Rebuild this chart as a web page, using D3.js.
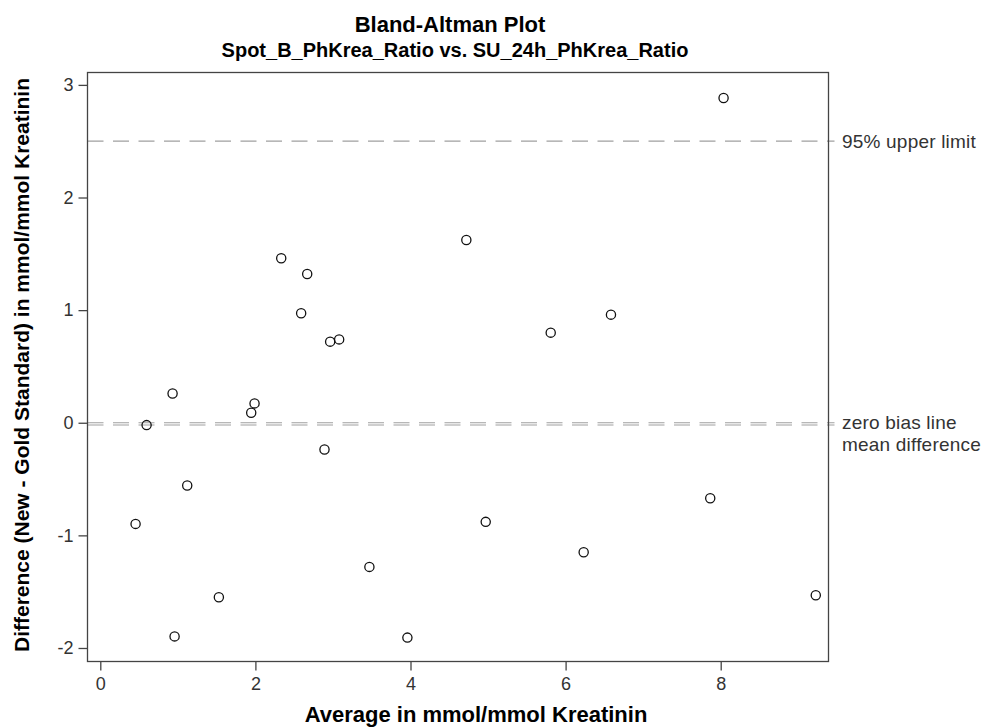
<!DOCTYPE html>
<html lang="en">
<head>
    <meta charset="UTF-8">
    <title>Bland-Altman Plot</title>
    <script src="https://d3js.org/d3.v7.min.js"></script>
    <style>
        body { margin: 0; background: #fff; }
        text { font-family: "Liberation Sans", Arial, sans-serif; }
        .tick-label { font-size: 18px; fill: #333; }
        .ref-label { font-size: 19px; fill: #333; letter-spacing: 0.2px; }
        .title { font-size: 20px; font-weight: bold; fill: #000; }
        .axis-title { font-size: 21px; font-weight: bold; fill: #000; }
    </style>
</head>
<body>
<svg width="986" height="727"></svg>
<script>
    // Averages (x) and differences (y)
    const avgValues  = [0.455, 0.597, 0.932, 0.958, 1.121, 1.529, 1.946, 1.989, 2.333, 2.590,
                        2.668, 2.891, 2.964, 3.080, 3.470, 3.960, 4.720, 4.970, 5.808, 6.233,
                        6.585, 7.865, 8.037, 9.226];
    const diffValues = [-0.898, -0.021, 0.260, -1.897, -0.557, -1.550, 0.089, 0.172, 1.460, 0.972,
                        1.321, -0.237, 0.720, 0.740, -1.280, -1.908, 1.623, -0.880, 0.800, -1.150,
                        0.960, -0.670, 2.883, -1.532];

    // Reference lines
    const refLines = [
        {value: 2.50, label: "95% upper limit"},
        {value: 0.00, label: "zero bias line"},
        {value: -0.02, label: "mean difference"}
    ];

    const xTicks = [0, 2, 4, 6, 8];
    const yTicks = [-2, -1, 0, 1, 2, 3];

    const points = avgValues.map((a, i) => ({avg: a, diff: diffValues[i]}));

    const box = {left: 87.5, right: 828.5, top: 72.5, bottom: 661.5};

    const x = d3.scaleLinear().domain([-0.165, 9.39]).range([box.left, box.right]);
    const y = d3.scaleLinear().domain([-2.12, 3.11]).range([box.bottom, box.top]);

    const svg = d3.select("svg");

    // Reference lines (dashed, grey)
    svg.append("g")
        .selectAll("line")
        .data(refLines)
        .join("line")
        .attr("x1", box.left)
        .attr("x2", box.right + 6)
        .attr("y1", d => y(d.value))
        .attr("y2", d => y(d.value))
        .attr("stroke", "#a0a0a0")
        .attr("stroke-width", 1.2)
        .attr("stroke-dasharray", "16,9.5");

    // Labels to the right of the box
    svg.append("g")
        .selectAll("text")
        .data(refLines)
        .join("text")
        .attr("class", "ref-label")
        .attr("x", 842)
        .attr("y", (d, i) => i === 2 ? y(0) + 22 : y(d.value))
        .attr("dy", "0.35em")
        .text(d => d.label);

    // Points
    svg.append("g")
        .selectAll("circle")
        .data(points)
        .join("circle")
        .attr("cx", d => x(d.avg))
        .attr("cy", d => y(d.diff))
        .attr("r", 4.6)
        .attr("fill", "none")
        .attr("stroke", "#111")
        .attr("stroke-width", 1.3);

    // Plot frame
    svg.append("rect")
        .attr("x", box.left)
        .attr("y", box.top)
        .attr("width", box.right - box.left)
        .attr("height", box.bottom - box.top)
        .attr("fill", "none")
        .attr("stroke", "#444")
        .attr("stroke-width", 1.3);

    const fmt = d => String(d);

    // X axis
    const xAxis = svg.append("g")
        .attr("transform", "translate(0," + box.bottom + ")")
        .call(d3.axisBottom(x).tickValues(xTicks).tickSize(9).tickPadding(7).tickFormat(fmt));
    xAxis.select(".domain").remove();
    xAxis.selectAll(".tick line").attr("stroke", "#444").attr("stroke-width", 1.3);
    xAxis.selectAll(".tick text").attr("class", "tick-label").attr("fill", null);

    // Y axis
    const yAxis = svg.append("g")
        .attr("transform", "translate(" + box.left + ",0)")
        .call(d3.axisLeft(y).tickValues(yTicks).tickSize(9).tickPadding(5).tickFormat(fmt));
    yAxis.select(".domain").remove();
    yAxis.selectAll(".tick line").attr("stroke", "#444").attr("stroke-width", 1.3);
    yAxis.selectAll(".tick text").attr("class", "tick-label").attr("fill", null);

    // Titles
    const cx = (box.left + box.right) / 2;
    svg.append("text").attr("class", "title").attr("x", cx - 8).attr("y", 32)
        .attr("font-size", "22px").style("font-size", "22px")
        .attr("text-anchor", "middle").text("Bland-Altman Plot");
    svg.append("text").attr("class", "title").attr("x", cx - 3).attr("y", 57)
        .attr("text-anchor", "middle").text("Spot_B_PhKrea_Ratio vs. SU_24h_PhKrea_Ratio");

    svg.append("text").attr("class", "axis-title").attr("x", cx + 18).attr("y", 722)
        .style("font-size", "22px")
        .attr("text-anchor", "middle").text("Average in mmol/mmol Kreatinin");

    svg.append("text").attr("class", "axis-title")
        .attr("transform", "translate(29," + 365 + ") rotate(-90)")
        .attr("text-anchor", "middle").text("Difference (New - Gold Standard) in mmol/mmol Kreatinin");
</script>
</body>
</html>
